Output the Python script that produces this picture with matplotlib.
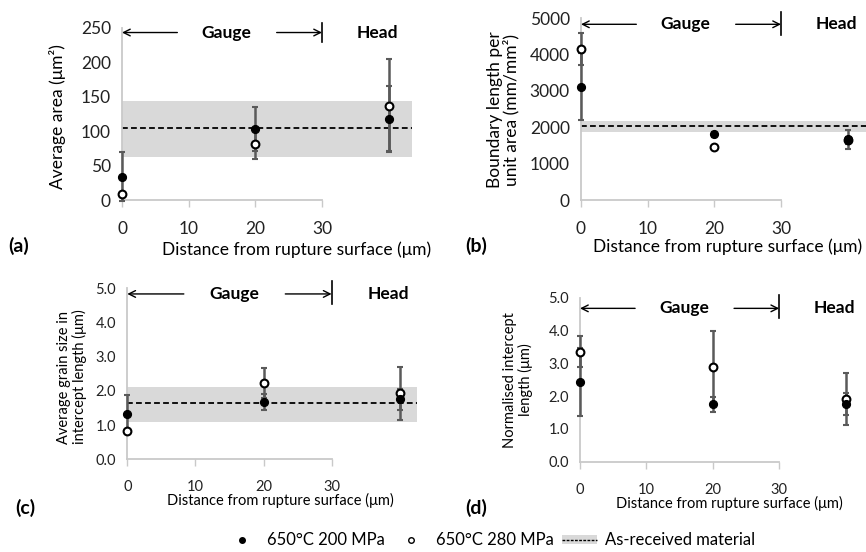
import matplotlib
matplotlib.use("Agg")
import matplotlib.pyplot as plt
import matplotlib.transforms as mtransforms
from matplotlib.lines import Line2D
from matplotlib.patches import Patch

plt.rcParams['font.family'] = ['Lato', 'DejaVu Sans']

W, H = 866, 552

# ---------------- data ----------------
distance = [0, 20, 40]
xticks = [0, 10, 20, 30]

# (a) average grain area (um^2)
area_200 = [34, 103, 118]
area_200_err = [36, 32, 47]
area_280 = [8, 81, 137]
area_280_err = [3, 21, 68]
area_ref, area_ref_lo, area_ref_hi = 104, 63, 144
area_yticks = [0, 50, 100, 150, 200, 250]

# (b) boundary length per unit area (mm/mm^2)
bl_200 = [3118, 1806, 1669]
bl_200_err = [920, 60, 260]
bl_280 = [4154, 1449, 1640]
bl_280_err = [442, 50, 100]
bl_ref, bl_ref_lo, bl_ref_hi = 2050, 1880, 2182
bl_yticks = [0, 1000, 2000, 3000, 4000, 5000]

# (c) average grain size in intercept length (um)
gs_200 = [1.33, 1.67, 1.75]
gs_200_err = [0.55, 0.23, 0.31]
gs_280 = [0.82, 2.22, 1.93]
gs_280_err = [0.05, 0.44, 0.78]
gs_ref, gs_ref_lo, gs_ref_hi = 1.64, 1.08, 2.10
gs_yticks = [0.0, 1.0, 2.0, 3.0, 4.0, 5.0]

# (d) normalised intercept length (um)
ni_200 = [2.43, 1.75, 1.75]
ni_200_err = [1.04, 0.23, 0.33]
ni_280 = [3.35, 2.88, 1.91]
ni_280_err = [0.47, 1.10, 0.80]
ni_yticks = [0.0, 1.0, 2.0, 3.0, 4.0, 5.0]

legend_labels = ['650°C 200 MPa', '650°C 280 MPa', 'As-received material']

AXIS_GRAY = '#c9c9c9'
ERR_GRAY = '#5a5a5a'
BAND_GRAY = '#d9d9d9'


def fx(x):
    return x / W


def fy(y):
    return 1 - y / H


fig = plt.figure(figsize=(W / 100, H / 100), dpi=100)


def make_axes(left, bottom, top, x_px_per_unit, xmax):
    width = x_px_per_unit * xmax
    return fig.add_axes([fx(left), fy(bottom), width / W, (bottom - top) / H])


def style_axes(ax, yticks, ylim, xmax, fmt, fs):
    ax.set_xlim(0, xmax)
    ax.set_ylim(*ylim)
    ax.set_xticks(xticks)
    ax.set_xticklabels([str(t) for t in xticks], fontsize=fs, color='#222222')
    ax.set_yticks(yticks)
    ax.set_yticklabels([fmt.format(t) for t in yticks], fontsize=fs, color='#222222')
    for s in ['top', 'right']:
        ax.spines[s].set_visible(False)
    for s in ['left', 'bottom']:
        ax.spines[s].set_color(AXIS_GRAY)
        ax.spines[s].set_linewidth(1.3)
    ax.spines['bottom'].set_bounds(0, 30)
    ax.tick_params(axis='x', direction='out', length=5, width=1.0, color=AXIS_GRAY, pad=10)
    ax.tick_params(axis='y', length=0, pad=8)
    ax.patch.set_alpha(0)


def plot_series(ax, y200, e200, y280, e280):
    ax.errorbar(distance, y200, yerr=e200, fmt='none', ecolor=ERR_GRAY,
                elinewidth=1.8, capsize=2.0, capthick=1.5, zorder=3, clip_on=False)
    ax.errorbar(distance, y280, yerr=e280, fmt='none', ecolor=ERR_GRAY,
                elinewidth=1.8, capsize=2.0, capthick=1.5, zorder=3, clip_on=False)
    ax.plot(distance, y200, 'o', color='black', markersize=5.6, zorder=5, clip_on=False)
    ax.plot(distance, y280, 'o', markerfacecolor='white', markeredgecolor='black',
            markeredgewidth=1.5, markersize=5.6, zorder=4, clip_on=False)


def reference_band(ax, mean, lo, hi):
    ax.axhspan(lo, hi, color=BAND_GRAY, lw=0, zorder=1)
    ax.axhline(mean, color='black', lw=1.3, ls=(0, (3.2, 1.8)), zorder=2)


def region_marks(ax, y_arrow, bar_lo, bar_hi, fs):
    trans = mtransforms.blended_transform_factory(ax.transData, ax.transAxes)
    arrow = dict(arrowstyle='->', color='black', lw=1.0, shrinkA=0, shrinkB=0,
                 mutation_scale=12)
    ax.annotate('', xy=(0, y_arrow), xytext=(8.3, y_arrow), xycoords=trans,
                textcoords=trans, arrowprops=arrow, annotation_clip=False)
    ax.annotate('', xy=(30, y_arrow), xytext=(23.2, y_arrow), xycoords=trans,
                textcoords=trans, arrowprops=arrow, annotation_clip=False)
    ax.plot([30, 30], [bar_lo, bar_hi], transform=trans, color='black', lw=1.2,
            clip_on=False)
    ax.text(15.7, y_arrow, 'Gauge', transform=trans, ha='center', va='center',
            fontweight='bold', fontsize=fs)
    ax.text(38.3, y_arrow, 'Head', transform=trans, ha='center', va='center',
            fontweight='bold', fontsize=fs)


# ---------------- (a) ----------------
ax_a = make_axes(122, 200, 27.7, 6.667, 43.5)
reference_band(ax_a, area_ref, area_ref_lo, area_ref_hi)
plot_series(ax_a, area_200, area_200_err, area_280, area_280_err)
style_axes(ax_a, area_yticks, (0, 250), 43.5, '{:d}', 12.5)
region_marks(ax_a, 0.972, 0.915, 1.03, 12.5)
fig.text(fx(297), fy(250), 'Distance from rupture surface (μm)', ha='center', va='center', fontsize=12.5)
fig.text(fx(58), fy(117), 'Average area (μm²)', rotation=90, ha='center', va='center', fontsize=12.5)
fig.text(fx(8), fy(246), '(a)', ha='left', va='center', fontsize=14, fontweight='bold')

# ---------------- (b) ----------------
ax_b = make_axes(581, 200, 18.3, 6.667, 43.5)
reference_band(ax_b, bl_ref, bl_ref_lo, bl_ref_hi)
plot_series(ax_b, bl_200, bl_200_err, bl_280, bl_280_err)
style_axes(ax_b, bl_yticks, (0, 5000), 43.5, '{:d}', 12.5)
region_marks(ax_b, 0.967, 0.91, 1.035, 12.5)
fig.text(fx(728), fy(247), 'Distance from rupture surface (μm)', ha='center', va='center', fontsize=12.5)
fig.text(fx(503), fy(110), 'Boundary length per\nunit area (mm/mm²)', rotation=90,
         ha='center', va='center', fontsize=12.5, linespacing=1.0)
fig.text(fx(465), fy(246), '(b)', ha='left', va='center', fontsize=14, fontweight='bold')

# ---------------- (c) ----------------
ax_c = make_axes(127.3, 459.3, 288.3, 6.81, 42.5)
reference_band(ax_c, gs_ref, gs_ref_lo, gs_ref_hi)
plot_series(ax_c, gs_200, gs_200_err, gs_280, gs_280_err)
style_axes(ax_c, gs_yticks, (0, 5), 42.5, '{:.1f}', 10.5)
region_marks(ax_c, 0.967, 0.908, 1.04, 12.5)
fig.text(fx(280), fy(500), 'Distance from rupture surface (μm)', ha='center', va='center', fontsize=10.5)
fig.text(fx(72), fy(377), 'Average grain size in\nintercept length (μm)', rotation=90,
         ha='center', va='center', fontsize=10.5, linespacing=1.0)
fig.text(fx(15), fy(508), '(c)', ha='left', va='center', fontsize=14, fontweight='bold')

# ---------------- (d) ----------------
ax_d = make_axes(580, 461.7, 297.7, 6.64, 43.5)
plot_series(ax_d, ni_200, ni_200_err, ni_280, ni_280_err)
style_axes(ax_d, ni_yticks, (0, 5), 43.5, '{:.1f}', 10.5)
region_marks(ax_d, 0.935, 0.874, 1.016, 12.5)
fig.text(fx(729), fy(503), 'Distance from rupture surface (μm)', ha='center', va='center', fontsize=10.5)
fig.text(fx(518), fy(380), 'Normalised intercept\nlength (μm)', rotation=90,
         ha='center', va='center', fontsize=10.5, linespacing=1.0)
fig.text(fx(465), fy(508), '(d)', ha='left', va='center', fontsize=14, fontweight='bold')

# ---------------- legend ----------------
handles = [
    Line2D([], [], ls='none', marker='o', color='black', markersize=4),
    Line2D([], [], ls='none', marker='o', markerfacecolor='white',
           markeredgecolor='black', markeredgewidth=1.0, markersize=4),
    (Patch(facecolor=BAND_GRAY, edgecolor='none'),
     Line2D([], [], color='black', lw=1.0, ls=(0, (2, 1)))),
]
fig.legend(handles, legend_labels, loc='center', bbox_to_anchor=(fx(490), fy(540)),
           ncol=3, frameon=False, fontsize=12, handlelength=2.1, handleheight=0.45,
           handletextpad=0.45, columnspacing=0.5)

fig.savefig('out.png', dpi=100)
